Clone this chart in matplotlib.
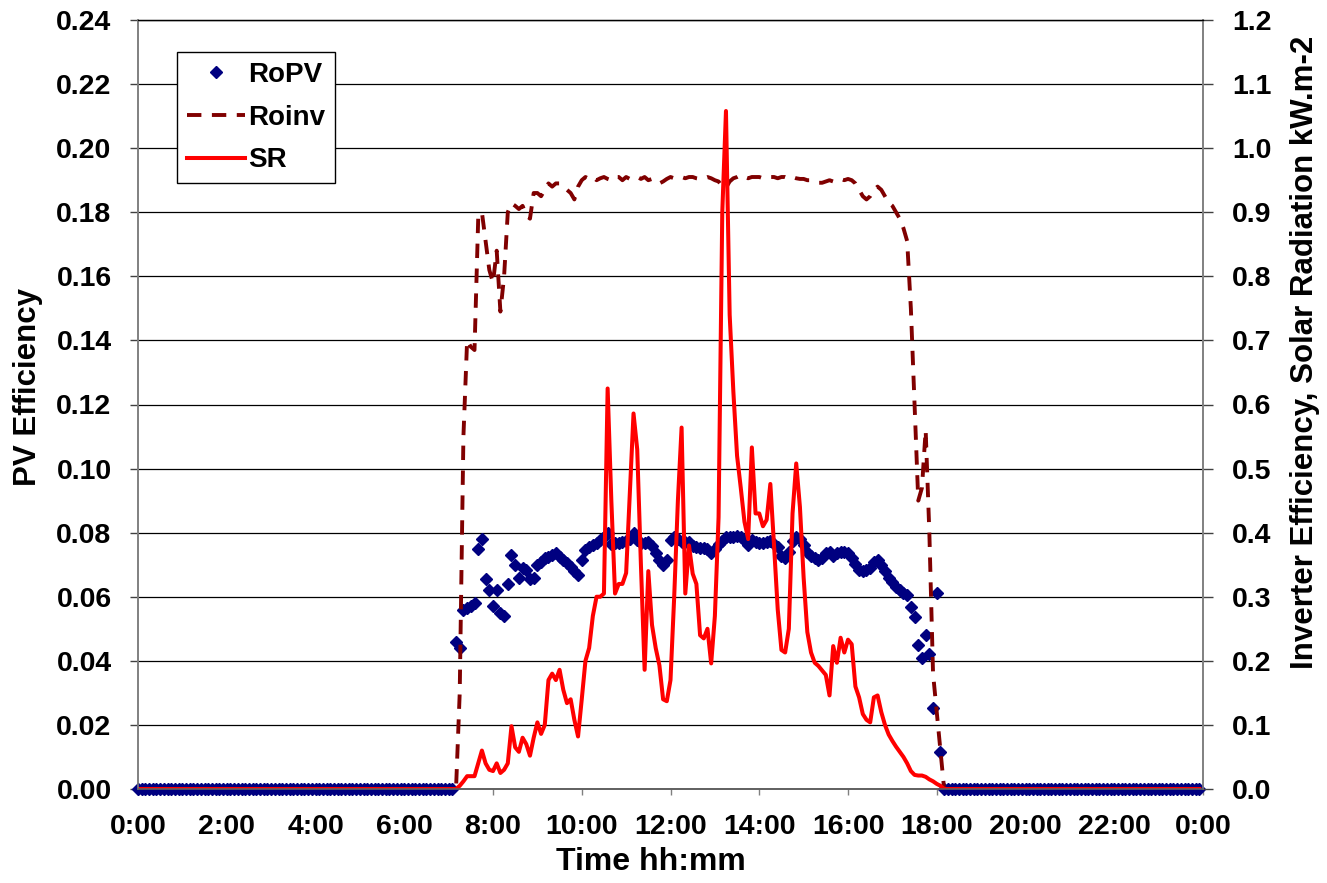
import numpy as np
import matplotlib
matplotlib.use("Agg")
import matplotlib.pyplot as plt
from matplotlib.ticker import FormatStrFormatter

plt.rcParams['font.family'] = ['Liberation Sans', 'DejaVu Sans']
plt.rcParams['font.weight'] = 'bold'

# readings every 5 minutes, 0:00 .. 23:55
STEP_MIN = 5
N_POINTS = 288
FIRST_SUN = 86  # index of 7:10, everything before is 0

# PV efficiency (left axis), 7:10 .. 18:05, one row per hour
ropv_day = [
    0.046, 0.044, 0.056, 0.0565, 0.057, 0.058, 0.075, 0.078, 0.0654, 0.062,
    0.057, 0.062, 0.055, 0.054, 0.064, 0.073, 0.070, 0.066, 0.069, 0.0685, 0.0655, 0.0657,
    0.070, 0.071, 0.072, 0.0725, 0.073, 0.0736, 0.0725, 0.0715, 0.0705, 0.0694, 0.068, 0.0668,
    0.0715, 0.0746, 0.0755, 0.076, 0.0767, 0.0777, 0.0785, 0.0798, 0.0765, 0.0767, 0.0767, 0.077,
    0.0775, 0.078, 0.0798, 0.0777, 0.0767, 0.0767, 0.077, 0.0757, 0.0736, 0.0715, 0.070, 0.0715,
    0.0778, 0.0785, 0.078, 0.077, 0.0772, 0.077, 0.0757, 0.0755, 0.0753, 0.0752, 0.075, 0.0736,
    0.075, 0.0764, 0.0775, 0.0785, 0.0785, 0.0785, 0.079, 0.0785, 0.0778, 0.0761, 0.0778, 0.077,
    0.0767, 0.0767, 0.077, 0.0773, 0.0765, 0.0754, 0.0728, 0.0722, 0.074, 0.0773, 0.0786, 0.078,
    0.076, 0.074, 0.0728, 0.072, 0.0715, 0.0722, 0.0735, 0.074, 0.0728, 0.0735, 0.074, 0.074,
    0.0735, 0.072, 0.0703, 0.0683, 0.068, 0.0685, 0.069, 0.071, 0.0715, 0.070, 0.068, 0.066,
    0.0645, 0.063, 0.062, 0.0613, 0.0606, 0.0568, 0.0536, 0.045, 0.0408, 0.048, 0.042, 0.0254,
    0.0613, 0.0115,
]

# inverter efficiency (right axis), 7:10 .. 18:10
roinv_day = [
    0.0, 0.15, 0.55, 0.70, 0.69, 0.685, 0.89, 0.90, 0.855, 0.81,
    0.79, 0.84, 0.745, 0.80, 0.90, 0.914, 0.91, 0.905, 0.91, 0.895, 0.89, 0.93,
    0.93, 0.925, 0.935, 0.945, 0.94, 0.945, 0.945, 0.94, 0.935, 0.93, 0.92, 0.94,
    0.95, 0.955, 0.952, 0.955, 0.95, 0.953, 0.955, 0.952, 0.95, 0.955, 0.955, 0.95,
    0.955, 0.952, 0.955, 0.955, 0.952, 0.955, 0.95, 0.952, 0.948, 0.945, 0.948, 0.952,
    0.955, 0.953, 0.955, 0.955, 0.953, 0.955, 0.955, 0.953, 0.952, 0.953, 0.955, 0.953,
    0.95, 0.948, 0.94, 0.938, 0.948, 0.953, 0.955, 0.958, 0.955, 0.953, 0.955, 0.955,
    0.955, 0.953, 0.955, 0.955, 0.955, 0.953, 0.955, 0.955, 0.953, 0.955, 0.953, 0.952,
    0.952, 0.95, 0.95, 0.948, 0.946, 0.946, 0.948, 0.95, 0.948, 0.95, 0.952, 0.95,
    0.952, 0.95, 0.945, 0.935, 0.925, 0.92, 0.925, 0.935, 0.94, 0.935, 0.925, 0.915,
    0.91, 0.90, 0.89, 0.875, 0.855, 0.75, 0.60, 0.45, 0.47, 0.56, 0.40, 0.18,
    0.12, 0.06, 0.0,
]

# solar radiation kW/m2 (right axis), 7:10 .. 18:10
sr_day = [
    0.0, 0.005, 0.012, 0.02, 0.02, 0.02, 0.04, 0.06, 0.04, 0.03,
    0.028, 0.04, 0.025, 0.03, 0.04, 0.098, 0.065, 0.058, 0.08, 0.07, 0.052, 0.08,
    0.104, 0.086, 0.10, 0.17, 0.18, 0.17, 0.186, 0.155, 0.134, 0.14, 0.108, 0.082,
    0.14, 0.2, 0.22, 0.27, 0.30, 0.30, 0.305, 0.625, 0.45, 0.305, 0.32, 0.32,
    0.337, 0.46, 0.586, 0.53, 0.35, 0.186, 0.34, 0.256, 0.22, 0.193, 0.14, 0.137,
    0.17, 0.30, 0.45, 0.564, 0.305, 0.38, 0.336, 0.32, 0.24, 0.235, 0.25, 0.196,
    0.27, 0.424, 0.9, 1.058, 0.74, 0.62, 0.52, 0.47, 0.417, 0.39, 0.533, 0.43,
    0.43, 0.41, 0.42, 0.476, 0.38, 0.28, 0.217, 0.213, 0.25, 0.43, 0.508, 0.44,
    0.33, 0.245, 0.213, 0.197, 0.192, 0.185, 0.178, 0.146, 0.223, 0.197, 0.236, 0.213,
    0.233, 0.226, 0.16, 0.143, 0.117, 0.108, 0.104, 0.143, 0.146, 0.12, 0.10, 0.085,
    0.075, 0.066, 0.058, 0.05, 0.04, 0.028, 0.022, 0.021, 0.021, 0.019, 0.015, 0.012,
    0.008, 0.005, 0.0,
]

xtick_pos = list(range(0, 25, 2))
xtick_labels = ["0:00", "2:00", "4:00", "6:00", "8:00", "10:00", "12:00",
                "14:00", "16:00", "18:00", "20:00", "22:00", "0:00"]

# whole day arrays, night hours stay at 0
hours = np.arange(N_POINTS) * STEP_MIN / 60
ropv = np.zeros(N_POINTS)
roinv = np.zeros(N_POINTS)
sr = np.zeros(N_POINTS)
ropv[FIRST_SUN:FIRST_SUN + len(ropv_day)] = ropv_day
roinv[FIRST_SUN:FIRST_SUN + len(roinv_day)] = roinv_day
sr[FIRST_SUN:FIRST_SUN + len(sr_day)] = sr_day

W, H = 1327, 883
fig = plt.figure(figsize=(W / 100, H / 100), dpi=100)
ax = fig.add_axes([138 / W, 1 - 789 / H, (1203 - 138) / W, (789 - 20) / H])

h_pv, = ax.plot(hours, ropv, linestyle='none', marker='D', ms=6.2,
                color='#000080', mec='#000080', clip_on=False, zorder=3, label='RoPV')
ax.set_xlim(0, 24)
ax.set_ylim(0, 0.24)
ax.set_yticks(np.arange(0, 0.2401, 0.02))
ax.yaxis.set_major_formatter(FormatStrFormatter('%.2f'))
ax.set_xticks(xtick_pos)
ax.set_xticklabels(xtick_labels)
ax.grid(axis='y', color='black', lw=0.9)
ax.set_axisbelow(True)

ax2 = ax.twinx()
h_inv, = ax2.plot(hours, roinv, color='#800000', lw=2.8, dashes=(3.7, 2.7), label='Roinv')
h_sr, = ax2.plot(hours, sr, color='#ff0000', lw=2.9, label='SR')
ax2.set_ylim(0, 1.2)
ax2.set_yticks(np.arange(0, 1.201, 0.1))
ax2.yaxis.set_major_formatter(FormatStrFormatter('%.1f'))

# axis lines: grey sides, thin black top like a gridline
for a in (ax, ax2):
    a.spines['left'].set_color('#808080')
    a.spines['right'].set_color('#808080')
    a.spines['bottom'].set_color('#606060')
    a.spines['top'].set_color('black')
    for s in a.spines.values():
        s.set_linewidth(1.2)
    a.spines['top'].set_linewidth(0.9)

ax.tick_params(axis='y', length=6, width=1, color='#404040', pad=13, labelsize=20.5)
ax.tick_params(axis='x', length=4, width=1, color='#808080', pad=14, labelsize=20.5)
ax2.tick_params(axis='y', length=7, width=1, color='#404040', pad=14, labelsize=20.5)

# axis titles placed like in the original (the right one sits above centre)
fig.text(651 / W, 1 - 862 / H, 'Time hh:mm', fontsize=23, fontweight='bold',
         ha='center', va='center')
fig.text(28 / W, 1 - 387 / H, 'PV Efficiency', fontsize=22.5, fontweight='bold',
         rotation=90, ha='center', va='center')
fig.text(1305 / W, 1 - 352 / H, 'Inverter Efficiency, Solar Radiation kW.m-2',
         fontsize=22.5, fontweight='bold', rotation=90, ha='center', va='center')

leg = ax2.legend([h_pv, h_inv, h_sr], ['RoPV', 'Roinv', 'SR'],
                 loc='upper left', bbox_to_anchor=(0.037, 0.958),
                 fontsize=20, fancybox=False, framealpha=1, edgecolor='black',
                 handlelength=2.1, labelspacing=0.6, borderpad=0.35,
                 handletextpad=0.1, borderaxespad=0)
leg.get_frame().set_linewidth(1.0)

fig.savefig('out.png', dpi=100)
